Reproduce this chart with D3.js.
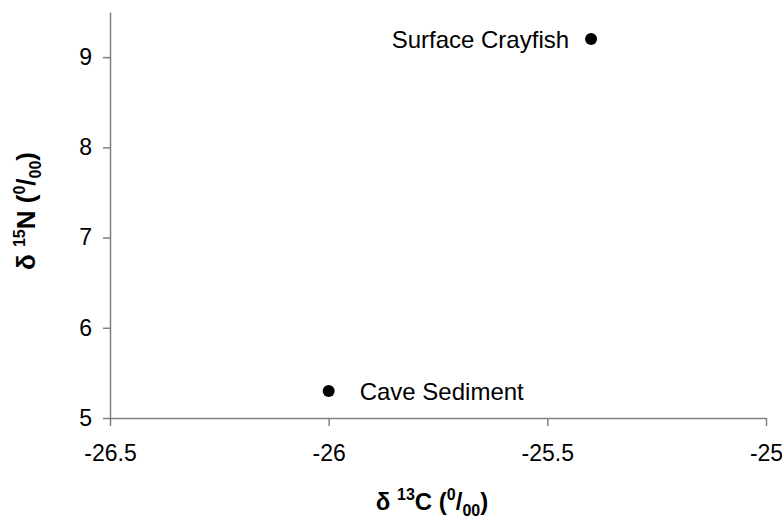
<!DOCTYPE html>
<html>
<head>
<meta charset="utf-8">
<script src="https://cdn.jsdelivr.net/npm/d3@7"></script>
<style>
  body { margin: 0; background: #fff; }
  text { font-family: "Liberation Sans", Arial, sans-serif; }
</style>
</head>
<body>
<div id="chart"></div>
<script>
// data
var names = ["Surface Crayfish", "Cave Sediment"];
var carbon = [-25.4, -26.0];
var nitrogen = [9.2, 5.3];
var xTicks = [-26.5, -26, -25.5, -25];
var yTicks = [5, 6, 7, 8, 9];

var margin = {top: 12, right: 16, bottom: 100, left: 110},
    width = 782 - margin.left - margin.right,
    height = 518 - margin.top - margin.bottom;

var svg = d3.select("#chart")
  .append("svg")
    .attr("width", 782)
    .attr("height", 518)
  .append("g")
    .attr("transform", "translate(" + margin.left + "," + margin.top + ")");

var x = d3.scaleLinear()
  .domain([-26.5, -25])
  .range([0, width]);

var y = d3.scaleLinear()
  .domain([5, 9.5])
  .range([height, 0]);

// x axis
var xAxis = svg.append("g")
  .attr("transform", "translate(0," + height + ")")
  .call(d3.axisBottom(x).tickValues(xTicks).tickSize(8).tickSizeOuter(0).tickPadding(19)
    .tickFormat(function(d) { return String(d); }));

// y axis
var yAxis = svg.append("g")
  .call(d3.axisLeft(y).tickValues(yTicks).tickSize(7).tickSizeOuter(0).tickPadding(11)
    .tickFormat(function(d) { return String(d); }));

[xAxis, yAxis].forEach(function(a) {
  a.select(".domain").attr("stroke", "#808080").attr("stroke-width", 1.5);
  a.selectAll(".tick line").attr("stroke", "#808080").attr("stroke-width", 1.5);
  a.selectAll(".tick text").attr("fill", "#000").style("font-size", "23px");
});

// points
var pts = names.map(function(n, i) { return {name: n, c: carbon[i], n: nitrogen[i]}; });

svg.selectAll("circle.pt")
  .data(pts)
  .enter()
  .append("circle")
    .attr("class", "pt")
    .attr("cx", function(d) { return x(d.c); })
    .attr("cy", function(d) { return y(d.n); })
    .attr("r", 6)
    .attr("fill", "#000");

// labels: crayfish on the left of its dot, sediment on the right
svg.selectAll("text.lbl")
  .data(pts)
  .enter()
  .append("text")
    .attr("class", "lbl")
    .attr("x", function(d, i) { return x(d.c) + (i == 0 ? -22 : 31); })
    .attr("y", function(d) { return y(d.n) + 9; })
    .attr("text-anchor", function(d, i) { return i == 0 ? "end" : "start"; })
    .style("font-size", "24px")
    .text(function(d) { return d.name; });

// axis titles
function title(sel, sup, letter) {
  sel.append("tspan").text("\u03B4 ");
  sel.append("tspan").attr("dy", -10).style("font-size", "16px").text(sup);
  sel.append("tspan").attr("dy", 10).text(letter + " (");
  sel.append("tspan").attr("dy", -10).style("font-size", "16px").text("0");
  sel.append("tspan").attr("dy", 10).text("/");
  sel.append("tspan").attr("dy", 6).style("font-size", "16px").text("00");
  sel.append("tspan").attr("dy", -6).text(")");
}

var xt = svg.append("text")
  .attr("x", width / 2 - 6)
  .attr("y", height + 92)
  .attr("text-anchor", "middle")
  .style("font-size", "24px")
  .style("font-weight", "bold");
title(xt, "13", "C");

var yt = svg.append("text")
  .attr("transform", "translate(" + (-75) + "," + (height / 2 - 4) + ") rotate(-90)")
  .attr("text-anchor", "middle")
  .style("font-size", "26px")
  .style("font-weight", "bold");
title(yt, "15", "N");
</script>
</body>
</html>
